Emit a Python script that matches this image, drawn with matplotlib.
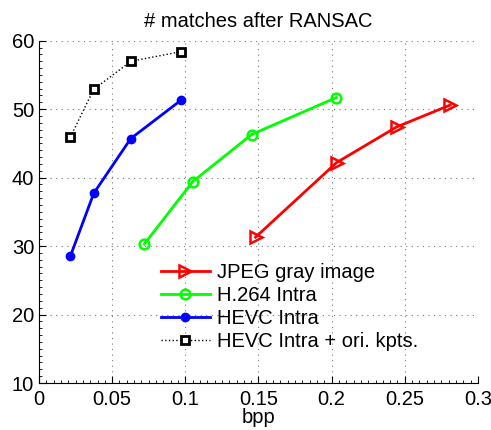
import matplotlib.pyplot as plt
from matplotlib.ticker import MultipleLocator

plt.rcParams['font.family'] = ['Liberation Sans', 'DejaVu Sans']

jpeg_x = [0.148, 0.2034, 0.2444, 0.281]
jpeg_y = [31.3, 42.2, 47.4, 50.6]
h264_x = [0.072, 0.105, 0.1453, 0.2032]
h264_y = [30.3, 39.4, 46.3, 51.7]
hevc_x = [0.0214, 0.0374, 0.0627, 0.097]
hevc_y = [28.5, 37.7, 45.7, 51.3]
kpts_x = [0.0214, 0.0374, 0.0629, 0.097]
kpts_y = [45.9, 52.9, 57.0, 58.4]

fig = plt.figure(figsize=(4.91, 4.3), dpi=100)
ax = fig.add_axes([0.0794, 0.1093, 0.894, 0.796])

ax.plot(jpeg_x, jpeg_y, c='#ff0000', lw=2, marker='>', ms=8, mfc='none', mew=1.8, label='JPEG gray image')
ax.plot(h264_x, h264_y, c='#00ff00', lw=2, marker='o', ms=7, mfc='none', mew=1.8, label='H.264 Intra')
ax.plot(hevc_x, hevc_y, c='#0000ff', lw=2, marker='o', ms=6, label='HEVC Intra')
ax.plot(kpts_x, kpts_y, c='k', lw=1, ls=':', marker='s', ms=5.5, mfc='white', mew=2, label='HEVC Intra + ori. kpts.')

ax.set_xlim(0, 0.3)
ax.set_ylim(10, 60)
ax.set_xticks([0, 0.05, 0.1, 0.15, 0.2, 0.25, 0.3])
ax.set_xticklabels(['0', '0.05', '0.1', '0.15', '0.2', '0.25', '0.3'])
ax.set_yticks([10, 20, 30, 40, 50, 60])
ax.xaxis.set_minor_locator(MultipleLocator(0.005))
ax.yaxis.set_minor_locator(MultipleLocator(1))
ax.tick_params(which='both', direction='in', labelsize=14.5)
ax.tick_params(which='major', length=5)
ax.tick_params(which='minor', length=2)
ax.tick_params(axis='x', pad=5)
ax.spines['top'].set_visible(False)
ax.spines['right'].set_visible(False)
ax.grid(True, which='major', color='#777777', lw=0.8, ls=(0, (1, 4)))

ax.set_title('# matches after RANSAC', fontsize=14.5, pad=10)
ax.set_xlabel('bpp', fontsize=14.5, labelpad=-1)

ax.legend(loc='upper left', bbox_to_anchor=(0.26, 0.375), frameon=False, fontsize=14.5,
          handlelength=2.4, handletextpad=0.35, labelspacing=0.2, borderaxespad=0)

fig.savefig('out.png', dpi=100)
